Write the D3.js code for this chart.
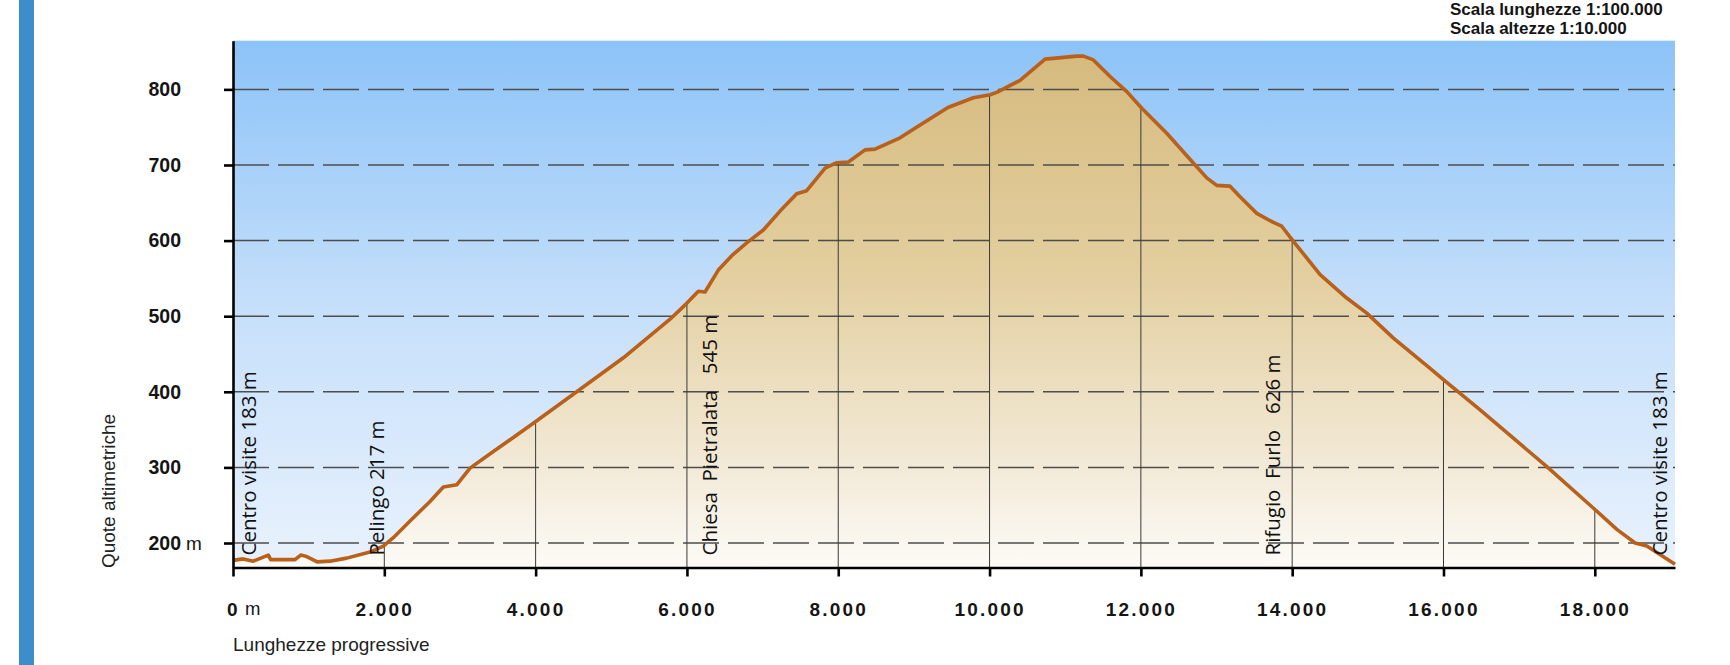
<!doctype html>
<meta charset="utf-8">

<style>
 body { margin: 0; background: #fff; }
 svg { display: block; font-family: "Liberation Sans", Arial, sans-serif; }

 .grid line {
     stroke: #4d4d4d;
     stroke-width: 1.5px;
     stroke-dasharray: 36 9;
 }

 .stems line {
     stroke: #3a3a3a;
     stroke-width: 1px;
 }

 .axis path, .axis line {
     stroke: #000;
     stroke-width: 2.6px;
 }

 .axis text {
     font-size: 19.5px;
     font-weight: bold;
     fill: #151515;
 }

 .x.axis text { font-size: 19px; letter-spacing: 2.2px; }

 .place {
     font-family: "Open Sans", sans-serif;
     font-size: 20.5px;
     fill: #111;
 }
</style>

<svg width="1730" height="665"></svg>

<script src="https://d3js.org/d3.v7.min.js"></script>
<script>
 // Profile: progressive length (m) and altitude (m)
 var distM = [0, 136, 268, 467, 498, 820, 895, 974, 1114, 1282, 1503, 1811, 1987, 2119, 2340,
              2604, 2780, 2957, 3133, 3441, 3979, 4543, 5160, 5777, 5997, 6151, 6239, 6415, 6592,
              6790, 7010, 7231, 7451, 7583, 7826, 7980, 8134, 8354, 8486, 8817, 9082, 9450, 9786,
              10007, 10095, 10403, 10734, 11153, 11240, 11372, 11593, 11814, 12012, 12342, 12717,
              12871, 13003, 13179, 13311, 13532, 13752, 13862, 14016, 14369, 14721, 14986, 15338,
              15823, 15999, 16484, 17366, 17983, 18291, 18533, 18688, 19060];
 var elevM = [177, 179, 176, 184, 178, 178, 184, 182, 175, 176, 180, 188, 196, 207, 229,
              255, 274, 277, 299, 321, 359, 400, 445, 496, 517, 533, 532, 561, 580,
              597, 614, 639, 662, 666, 696, 703, 704, 720, 721, 736, 753, 776, 789,
              793, 796, 812, 840, 844, 844, 839, 817, 797, 775, 742, 700,
              683, 673, 672, 658, 636, 624, 619, 599, 555, 524, 504, 471,
              431, 416, 376, 301, 246, 218, 200, 196, 172];

 var xTicks = [0, 2000, 4000, 6000, 8000, 10000, 12000, 14000, 16000, 18000];
 var xTickLabels = ["0", "2.000", "4.000", "6.000", "8.000", "10.000", "12.000", "14.000", "16.000", "18.000"];
 var yTicks = [200, 300, 400, 500, 600, 700, 800];
 var yTickLabels = ["200", "300", "400", "500", "600", "700", "800"];

 // Waypoints (length where the label stands)
 var placeNames = ["Centro visite 183 m", "Pelingo 217 m",
                   "Chiesa\u00a0\u00a0Pietralata\u00a0\u00a0\u00a0545 m",
                   "Rifugio\u00a0\u00a0Furlo\u00a0\u00a0\u00a0626 m", "Centro visite 183 m"];
 var placeDist = [304, 2000, 6400, 13840, 18950];

 var scaleNotes = ["Scala lunghezze 1:100.000", "Scala altezze 1:10.000"];

 var profile = distM.map(function(d, i) { return {d: d, e: elevM[i]}; });

 // Set up SVG
 var svg = d3.select('svg');
 var margin = { top: 40.7, left: 233, bottom: 97.5, right: 55 };
 var width = +svg.attr('width');
 var height = +svg.attr('height');

 var x = d3.scaleLinear().domain([0, 19060]).range([margin.left, width - margin.right]);
 var y = d3.scaleLinear().domain([167.6, 864.4]).range([height - margin.bottom, margin.top]);

 var defs = svg.append('defs');
 var sky = defs.append('linearGradient').attr('id', 'sky')
   .attr('gradientUnits', 'userSpaceOnUse')
   .attr('x1', 0).attr('x2', 0).attr('y1', y.range()[1]).attr('y2', y.range()[0]);
 sky.append('stop').attr('offset', 0).attr('stop-color', '#8cc3f8');
 sky.append('stop').attr('offset', 0.5).attr('stop-color', '#c5dffa');
 sky.append('stop').attr('offset', 1).attr('stop-color', '#e9f2fd');

 var ground = defs.append('linearGradient').attr('id', 'ground')
   .attr('gradientUnits', 'userSpaceOnUse')
   .attr('x1', 0).attr('x2', 0).attr('y1', y.range()[1]).attr('y2', y.range()[0]);
 ground.append('stop').attr('offset', 0).attr('stop-color', '#d5b97c');
 ground.append('stop').attr('offset', 0.45).attr('stop-color', '#e3cfa0');
 ground.append('stop').attr('offset', 0.8).attr('stop-color', '#f2e9d6');
 ground.append('stop').attr('offset', 1).attr('stop-color', '#fdfbf7');

 // Left blue band
 svg.append('rect')
   .attr('x', 19).attr('y', 0).attr('width', 15).attr('height', height)
   .attr('fill', '#3d8dcb');

 // Sky
 svg.append('rect')
   .attr('x', x.range()[0]).attr('y', y.range()[1])
   .attr('width', x.range()[1] - x.range()[0])
   .attr('height', y.range()[0] - y.range()[1])
   .attr('fill', 'url(#sky)');

 // Ground
 var area = d3.area()
   .x(function(p) { return x(p.d); })
   .y0(y.range()[0])
   .y1(function(p) { return y(p.e); });
 svg.append('path').datum(profile).attr('d', area).attr('fill', 'url(#ground)');

 // Dashed altitude lines
 svg.append('g').attr('class', 'grid')
   .selectAll('line').data(yTicks).join('line')
   .attr('x1', x.range()[0]).attr('x2', x.range()[1])
   .attr('y1', function(d) { return y(d); })
   .attr('y2', function(d) { return y(d); });

 // Vertical stems from the base up to the profile
 var bis = d3.bisector(function(p) { return p.d; }).left;
 function elevAt(d) {
   var i = bis(profile, d);
   if (i <= 0) return profile[0].e;
   var a = profile[i - 1], b = profile[i];
   return a.e + (b.e - a.e) * (d - a.d) / (b.d - a.d);
 }
 svg.append('g').attr('class', 'stems')
   .selectAll('line').data(xTicks.slice(1)).join('line')
   .attr('x1', function(d) { return x(d); })
   .attr('x2', function(d) { return x(d); })
   .attr('y1', y.range()[0])
   .attr('y2', function(d) { return y(elevAt(d)); });

 // Profile line
 var line = d3.line()
   .x(function(p) { return x(p.d); })
   .y(function(p) { return y(p.e); });
 svg.append('path').datum(profile).attr('d', line)
   .attr('fill', 'none')
   .attr('stroke', '#b9601a')
   .attr('stroke-width', 3.6)
   .attr('stroke-linejoin', 'round');

 // Axes
 svg.append('g').attr('class', 'y axis')
   .attr('transform', 'translate(' + x.range()[0] + ',0)')
   .call(d3.axisLeft(y).tickValues(yTicks)
     .tickFormat(function(d, i) { return yTickLabels[i]; })
     .tickSize(9).tickSizeOuter(0).tickPadding(43));

 svg.append('g').attr('class', 'x axis')
   .attr('transform', 'translate(0,' + y.range()[0] + ')')
   .call(d3.axisBottom(x).tickValues(xTicks)
     .tickFormat(function(d, i) { return xTickLabels[i]; })
     .tickSize(9).tickSizeOuter(0).tickPadding(26));

 // unit marks
 svg.append('text')
   .attr('x', x.range()[0] - 47).attr('y', y(yTicks[0])).attr('dy', '0.35em')
   .attr('font-size', 19).attr('fill', '#151515').text('m');
 svg.append('text')
   .attr('x', x(0) + 12).attr('y', y.range()[0] + 47.5)
   .attr('font-size', 18.5).attr('fill', '#151515').text('m');

 // Axis titles
 svg.append('text')
   .attr('x', x.range()[0]).attr('y', 651)
   .attr('font-size', 19).attr('fill', '#222')
   .text('Lunghezze progressive');
 svg.append('text')
   .attr('transform', 'translate(115,491) rotate(-90)')
   .attr('text-anchor', 'middle')
   .attr('font-size', 19).attr('fill', '#222')
   .text('Quote altimetriche');

 // Scale notes
 svg.append('g').selectAll('text').data(scaleNotes).join('text')
   .attr('x', 1450)
   .attr('y', function(d, i) { return 15 + i * 18.5; })
   .attr('font-size', 17).attr('font-weight', 'bold').attr('fill', '#151515')
   .text(function(d) { return d; });

 // Waypoint labels
 svg.append('g').selectAll('text').data(placeNames).join('text')
   .attr('class', 'place')
   .attr('transform', function(d, i) {
     return 'translate(' + x(placeDist[i]) + ',' + (y.range()[0] - 12) + ') rotate(-90)';
   })
   .text(function(d) { return d; });
</script>
